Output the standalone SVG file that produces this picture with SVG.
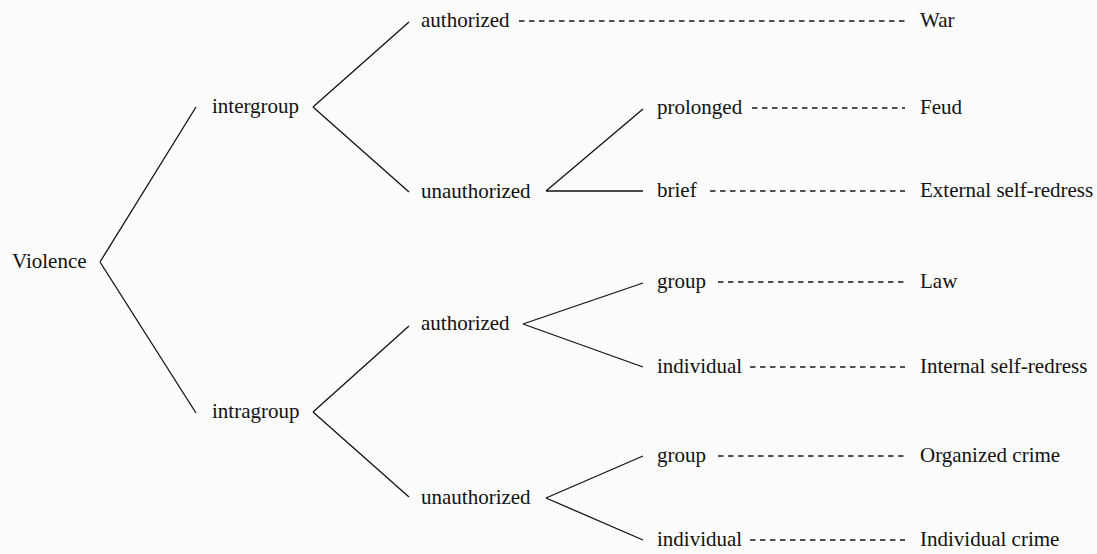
<svg xmlns="http://www.w3.org/2000/svg" width="1097" height="554" viewBox="0 0 1097 554">
  <style>
    text { font-family: "Liberation Serif", "DejaVu Serif", "Times New Roman", serif; font-size: 21px; fill: #111; }
    .branch { stroke: #111; stroke-width: 1.3; fill: none; }
    .lead { stroke: #1a1a1a; stroke-width: 1.4; stroke-dasharray: 5.5 4.5; fill: none; }
  </style>
  <rect width="1097" height="554" fill="#fcfcfc"/>

  <!-- tree branches and dashed leaders -->
  <g id="connectors">
    <path class="branch" d="M100,262 L196,107 M100,262 L196,413"/>
    <path class="branch" d="M313,107 L409,22 M313,107 L409,192"/>
    <path class="branch" d="M313,412 L409,326 M313,412 L409,497"/>
    <path class="branch" d="M546,191 L643,109 M546,191 L643,191"/>
    <path class="branch" d="M523,324 L643,283 M523,324 L643,367"/>
    <path class="branch" d="M546,498 L643,456 M546,498 L643,540"/>

    <line class="lead" x1="519" y1="21" x2="905" y2="21"/>
    <line class="lead" x1="752" y1="108" x2="905" y2="108"/>
    <line class="lead" x1="710" y1="191" x2="905" y2="191"/>
    <line class="lead" x1="718" y1="282" x2="905" y2="282"/>
    <line class="lead" x1="750" y1="367" x2="905" y2="367"/>
    <line class="lead" x1="718" y1="456" x2="905" y2="456"/>
    <line class="lead" x1="750" y1="540" x2="905" y2="540"/>
  </g>

  <!-- category nodes -->
  <g id="violence"><text x="12" y="268">Violence</text></g>
  <g id="intergroup"><text x="212" y="113">intergroup</text></g>
  <g id="intragroup"><text x="212" y="418">intragroup</text></g>
  <g id="inter-authorized"><text x="421" y="27">authorized</text></g>
  <g id="inter-unauthorized"><text x="421" y="198">unauthorized</text></g>
  <g id="intra-authorized"><text x="421" y="330">authorized</text></g>
  <g id="intra-unauthorized"><text x="421" y="504">unauthorized</text></g>
  <g id="prolonged"><text x="657" y="114">prolonged</text></g>
  <g id="brief"><text x="657" y="197">brief</text></g>
  <g id="auth-group"><text x="657" y="288">group</text></g>
  <g id="auth-individual"><text x="657" y="373">individual</text></g>
  <g id="unauth-group"><text x="657" y="462">group</text></g>
  <g id="unauth-individual"><text x="657" y="546">individual</text></g>

  <!-- outcome nodes -->
  <g id="war"><text x="920" y="27">War</text></g>
  <g id="feud"><text x="920" y="114">Feud</text></g>
  <g id="external-self-redress"><text x="920" y="197">External self-redress</text></g>
  <g id="law"><text x="920" y="288">Law</text></g>
  <g id="internal-self-redress"><text x="920" y="373">Internal self-redress</text></g>
  <g id="organized-crime"><text x="920" y="462">Organized crime</text></g>
  <g id="individual-crime"><text x="920" y="546">Individual crime</text></g>
</svg>
